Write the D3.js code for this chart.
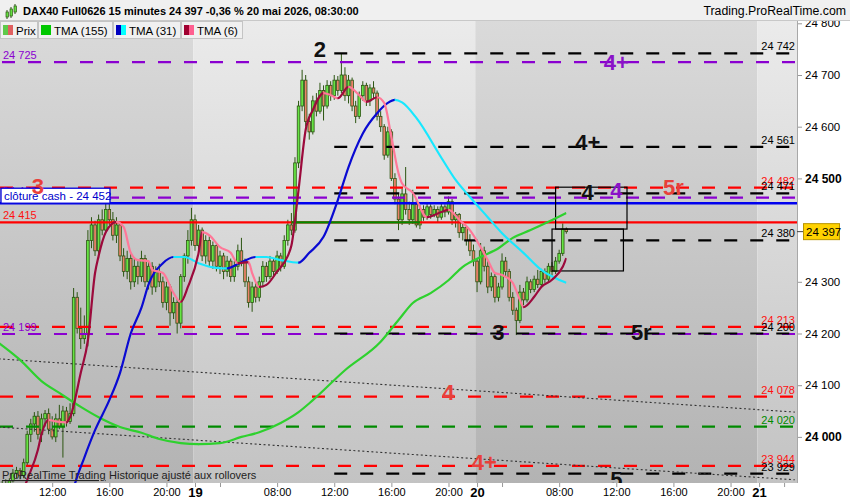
<!DOCTYPE html>
<html>
<head>
<meta charset="utf-8">
<script src="https://cdn.jsdelivr.net/npm/d3@7"></script>
<style>
  body { margin: 0; background: #fff; }
  svg { display: block; font-family: "Liberation Sans", Arial, sans-serif; }
</style>
</head>
<body>
<svg id="chart" width="850" height="500"></svg>
<script>
// 15 minute candles, [open, high, low, close]
const day18 = [
  [23905,23912,23885,23895],[23895,23915,23890,23910],[23910,23918,23895,23900],[23900,23920,23898,23915],
  [23915,23938,23912,23930],[23930,23942,23920,23935],[23935,23940,23918,23925],[23925,23958,23920,23950],
  [23950,24012,23945,24005],[24005,24035,23990,24025],[24025,24048,24010,24040],[24040,24050,23995,24005],
  [24005,24045,23990,24035],[24035,24052,24020,24045],[24045,24055,24005,24015],[24015,24040,23995,24000],
  [24000,24045,23990,24035],[24035,24062,24015,24020],[24020,24060,23960,24050],[24050,24058,24020,24030],
  [24030,24065,24025,24045],[24045,24288,24040,24270],[24270,24280,24200,24210],[24210,24250,24170,24190],
  [24190,24235,24180,24200],[24200,24400,24175,24380],[24380,24425,24365,24410],[24410,24418,24350,24360],
  [24360,24430,24345,24420],[24420,24440,24390,24400],[24400,24470,24395,24440],[24440,24482,24410,24420],
  [24420,24435,24380,24390],[24390,24425,24375,24410],[24410,24415,24340,24350],[24350,24365,24310,24320],
  [24320,24360,24305,24345],[24345,24355,24285,24300],[24300,24345,24290,24330],[24330,24340,24295,24310],
  [24310,24360,24300,24345],[24345,24352,24290,24300],[24300,24340,24285,24330],[24330,24338,24275,24290],
  [24290,24330,24280,24320],[24320,24335,24290,24300],[24300,24310,24250,24260],[24260,24300,24245,24290],
  [24290,24295,24215,24240],[24240,24270,24228,24260],[24260,24268,24200,24220],[24220,24315,24210,24310],
  [24310,24355,24300,24350],[24350,24400,24335,24380],[24380,24443,24370,24420]
]
const day19 = [
  [24420,24430,24360,24370],[24370,24410,24355,24400],[24400,24405,24340,24350],[24350,24390,24335,24380],
  [24380,24388,24330,24340],[24340,24378,24325,24370],[24370,24375,24320,24330],[24330,24360,24315,24350],
  [24350,24356,24305,24320],[24320,24350,24310,24340],[24340,24345,24300,24310],[24310,24340,24300,24330],
  [24330,24372,24322,24360],[24360,24385,24330,24340],[24340,24345,24290,24300],[24300,24310,24250,24260],
  [24260,24300,24242,24290],[24290,24298,24260,24270],[24270,24310,24262,24300],[24300,24340,24290,24330],
  [24330,24338,24300,24310],[24310,24350,24305,24340],[24340,24345,24310,24320],[24320,24360,24315,24350],
  [24350,24356,24320,24330],[24330,24390,24325,24380],[24380,24420,24370,24410],[24410,24433,24390,24400],
  [24400,24541,24395,24530],[24530,24650,24520,24640],[24640,24710,24630,24690],[24690,24700,24600,24610],
  [24610,24625,24575,24590],[24590,24660,24585,24650],[24650,24665,24620,24630],[24630,24685,24625,24670],
  [24670,24680,24612,24640],[24640,24690,24635,24680],[24680,24688,24650,24660],[24660,24700,24652,24690],
  [24690,24698,24660,24670],[24670,24742,24665,24700],[24700,24715,24650,24660],[24660,24700,24645,24690],
  [24690,24695,24630,24640],[24640,24650,24607,24620],[24620,24668,24615,24660],[24660,24688,24650,24680],
  [24680,24685,24640,24650],[24650,24682,24640,24675],[24675,24688,24655,24665],[24665,24670,24612,24620],
  [24620,24630,24590,24600],[24600,24605,24536,24545],[24545,24600,24540,24590],[24590,24595,24495,24500],
  [24500,24510,24450,24460],[24460,24472,24400,24420],[24420,24480,24410,24470],[24470,24522,24430,24440],
  [24440,24455,24410,24420],[24420,24478,24412,24450],[24450,24460,24405,24410],[24410,24448,24402,24440],
  [24440,24448,24418,24425],[24425,24452,24420,24445],[24445,24450,24422,24430],[24430,24448,24425,24440],
  [24440,24446,24415,24425],[24425,24452,24420,24445],[24445,24450,24425,24435],[24435,24465,24430,24455],
  [24455,24460,24410,24420],[24420,24435,24405,24430],[24430,24433,24385,24395],[24395,24415,24380,24405],
  [24405,24410,24370,24380],[24380,24392,24350,24360],[24360,24372,24330,24340]
]
const day20 = [
  [24340,24345,24280,24300],[24300,24375,24295,24360],[24360,24368,24320,24330],[24330,24340,24278,24290],
  [24290,24318,24282,24310],[24310,24315,24260,24270],[24270,24298,24262,24290],[24290,24355,24285,24340],
  [24340,24348,24310,24320],[24320,24325,24262,24270],[24270,24280,24236,24245],[24245,24250,24197,24225],
  [24225,24294,24220,24280],[24280,24288,24255,24265],[24265,24310,24260,24300],[24300,24305,24278,24285],
  [24285,24312,24280,24305],[24305,24323,24288,24295],[24295,24325,24290,24320],[24320,24326,24298,24305],
  [24305,24336,24300,24330],[24330,24338,24312,24320],[24320,24348,24315,24340],[24340,24362,24335,24355],
  [24355,24413,24350,24402],[24402,24405,24393,24397]
]

// moving averages, [bar, value]
const tma155 = [[0,24182],[6,24149],[12,24108],[17,24085],[23,24058],[28,24038],[34,24019],[40,24008],
  [45,23996],[51,23988],[56,23986],[62,23988],[68,24000],[73,24009],[79,24027],[84,24048],[88,24071],
  [97,24129],[107,24184],[112,24226],[116,24259],[121,24278],[126,24303],[130,24329],[135,24348],
  [140,24365],[144,24385],[149,24400],[154,24416],[159,24433]]
const tma31 = [[20,23870],[21,23900],[24,23960],[27,24013],[31,24071],[34,24124],[37,24200],[40,24250],
  [42,24295],[46,24336],[49,24348],[52,24348],[56,24336],[61,24327],[64,24326],[68,24338],[72,24348],
  [75,24348],[79,24342],[84,24337],[87,24356],[91,24387],[95,24458],[98,24522],[102,24587],[106,24626],
  [109,24646],[111,24652],[113,24647],[117,24617],[124,24540],[128,24497],[132,24464],[137,24425],
  [141,24394],[147,24356],[152,24323],[159,24298]]
const tma6 = [[6,23880],[8,23917],[11,23975],[12,24005],[14,24033],[16,24030],[19,24028],[20,24038],
  [23,24124],[25,24187],[27,24317],[28,24350],[30,24396],[33,24416],[35,24406],[37,24356],[39,24342],
  [42,24340],[43,24323],[46,24317],[49,24278],[51,24261],[53,24290],[56,24356],[57,24396],[59,24390],
  [62,24367],[65,24356],[67,24336],[70,24338],[71,24317],[73,24290],[75,24294],[78,24320],[81,24350],
  [82,24370],[84,24478],[86,24594],[88,24632],[91,24665],[93,24661],[95,24655],[98,24677],[101,24661],
  [103,24648],[106,24657],[108,24646],[110,24580],[112,24510],[113,24490],[116,24472],[120,24425],
  [124,24435],[126,24439],[129,24420],[132,24400],[135,24367],[137,24342],[139,24317],[141,24313],
  [144,24298],[146,24265],[147,24251],[150,24271],[152,24290],[155,24304],[158,24329],[159,24346]]

// horizontal levels
const blackLevels = [24742, 24561, 24471, 24380, 24200, 23929]
const purpleLevels = [24725, 24463, 24199]
const redLevels = [24482, 24213, 24078, 23944]
const greenLevels = [24020]
const cashClose = 24452
const redSolid = 24415
const lastPrice = 24397
const blackFromBar = 94
const greenSegment = [82, 118]
// dotted trend lines, [bar, value] pairs
const trendLines = [[[0,24151],[223,24048]], [[0,24019],[223,23917]]]
// boxes, [bar0, bar1, top, bottom]
const boxes = [[156,176,24483,24402],[155,175,24402,24321]]

// wave labels, [text, bar, value, colour]
const waveLabels = [
  ['2', 90, 24735, 'black'], ['3', 11, 24470, 'red'], ['4+', 173, 24710, 'purple'],
  ['4+', 165, 24555, 'black'], ['4', 165, 24458, 'black'], ['4', 173, 24462, 'purple'],
  ['5r', 189, 24468, 'red'], ['3', 140, 24187, 'black'], ['5r', 180, 24187, 'black'],
  ['4', 126, 24071, 'red'], ['4+', 136, 23936, 'red'], ['5', 173, 23903, 'black']
]

// axes
const priceTicks = [24000, 24100, 24200, 24300, 24500, 24600, 24700, 24800]
const boldPrices = [24000, 24500]
const timeTicks = [[15,'12:00'],[31,'16:00'],[47,'20:00'],[78,'08:00'],[94,'12:00'],[110,'16:00'],
  [126,'20:00'],[157,'08:00'],[173,'12:00'],[189,'16:00'],[205,'20:00']]
const dayTicks = [[55,'19'],[134,'20'],[213,'21']]
const minorTicks = [62, 141, 220]

const inkColors = {black: '#111', red: '#e8403a', purple: '#8a12c8'}
const fmt = v => d3.format(',')(v).replace(/,/g, ' ')

const plotRight = 797, plotTop = 20, plotBottom = 483
const svg = d3.select('#chart')
const defs = svg.append('defs')

const x = d3.scaleLinear().domain([0, 223]).range([-1.35, 794.8])
const y = d3.scaleLinear().domain([24000, 24700]).range([436.9, 75])

const bars = day18.concat(day19, day20).map((d, i) => ({i, o: d[0], h: d[1], l: d[2], c: d[3]}))

// gradients for the day bands
function gradient(id, top, bottom) {
  let g = defs.append('linearGradient').attr('id', id).attr('x1', 0).attr('y1', 0).attr('x2', 0).attr('y2', 1)
  g.append('stop').attr('offset', '0%').attr('stop-color', top)
  g.append('stop').attr('offset', '100%').attr('stop-color', bottom)
}
gradient('bandDark', '#dadada', '#b3b3b3')
gradient('bandLight', '#ebebeb', '#c3c3c3')

defs.append('clipPath').attr('id', 'plotClip').append('rect')
  .attr('x', 0).attr('y', plotTop).attr('width', plotRight).attr('height', plotBottom - plotTop)

svg.append('rect').attr('width', 850).attr('height', 500).attr('fill', '#fff')

const plot = svg.append('g').attr('clip-path', 'url(#plotClip)')

// day bands
let edges = [0].concat(dayTicks.map(d => d[0]), [230])
for (let k = 0; k < edges.length - 1; k++) {
  let x0 = k === 0 ? 0 : x(edges[k] - 0.5)
  let x1 = Math.min(plotRight, x(edges[k + 1] - 0.5))
  plot.append('rect').attr('x', x0).attr('y', plotTop).attr('width', x1 - x0).attr('height', plotBottom - plotTop)
    .attr('fill', k % 2 === 0 ? 'url(#bandDark)' : 'url(#bandLight)')
}

// candles
const wick = '#2c5512'
plot.append('g').selectAll('line').data(bars).join('line')
  .attr('x1', d => x(d.i)).attr('x2', d => x(d.i))
  .attr('y1', d => y(d.h)).attr('y2', d => y(d.l))
  .attr('stroke', wick).attr('stroke-width', 1)
const bw = 2.6
plot.append('g').selectAll('rect').data(bars).join('rect')
  .attr('x', d => x(d.i) - bw / 2).attr('width', bw)
  .attr('y', d => y(Math.max(d.o, d.c)))
  .attr('height', d => Math.max(0.8, Math.abs(y(d.o) - y(d.c))))
  .attr('fill', d => d.c >= d.o ? '#66e444' : '#ec826a')
  .attr('stroke', wick).attr('stroke-width', 0.8)

// levels
function hLine(v, x0, x1, color, dash, w) {
  plot.append('line').attr('x1', x0).attr('x2', x1).attr('y1', y(v)).attr('y2', y(v))
    .attr('stroke', color).attr('stroke-width', w).attr('stroke-dasharray', dash)
}
redLevels.forEach(v => hLine(v, 0, plotRight, '#ff0000', '13,13', 2.2))
purpleLevels.forEach(v => hLine(v, 2, plotRight, '#8a00d0', '13,13', 2.2))
greenLevels.forEach(v => hLine(v, 0, plotRight, '#008a00', '13,13', 2.2))
blackLevels.forEach(v => hLine(v, x(blackFromBar), plotRight, '#000', '13,13', 2.2))
hLine(redSolid, 0, plotRight, '#ff0000', null, 2.2)
hLine(redSolid, x(greenSegment[0]), x(greenSegment[1]), '#008a00', null, 2.4)
hLine(cashClose, 0, plotRight, '#0000ee', null, 2.6)

trendLines.forEach(t => {
  plot.append('line').attr('x1', x(t[0][0])).attr('y1', y(t[0][1])).attr('x2', x(t[1][0])).attr('y2', y(t[1][1]))
    .attr('stroke', '#333').attr('stroke-width', 1.1).attr('stroke-dasharray', '2,2.5')
})

boxes.forEach(b => {
  plot.append('rect').attr('x', x(b[0])).attr('y', y(b[2])).attr('width', x(b[1]) - x(b[0])).attr('height', y(b[3]) - y(b[2]))
    .attr('fill', 'none').attr('stroke', '#000').attr('stroke-width', 1.2)
})

// moving averages coloured by direction
function drawTma(points, upColor, downColor, id) {
  const pathD = d3.line().x(d => x(d[0])).y(d => y(d[1])).curve(d3.curveMonotoneX)(points)
  let runs = []
  for (let k = 1; k < points.length; k++) {
    let up = points[k][1] > points[k - 1][1]
    let last = runs[runs.length - 1]
    if (last && last.up === up) last.end = points[k][0]
    else runs.push({up, start: points[k - 1][0], end: points[k][0]})
  }
  runs.forEach((r, n) => {
    let cid = id + n
    defs.append('clipPath').attr('id', cid).append('rect')
      .attr('x', x(r.start) - 0.3).attr('width', x(r.end) - x(r.start) + 0.6).attr('y', 0).attr('height', 500)
    plot.append('path').attr('d', pathD).attr('clip-path', 'url(#' + cid + ')')
      .attr('fill', 'none').attr('stroke', r.up ? upColor : downColor).attr('stroke-width', 2.2)
  })
}
drawTma(tma155, '#2ed12e', '#2ed12e', 't155_')
drawTma(tma31, '#0a0ad2', '#18e8ff', 't31_')
drawTma(tma6, '#9c0a3c', '#ff7898', 't6_')

// level values
const labels = plot.append('g').style('font-size', '11px')
function levelText(v, color, side) {
  labels.append('text').attr('x', side === 'left' ? 3 : 795).attr('y', y(v) - 3)
    .attr('text-anchor', side === 'left' ? 'start' : 'end').attr('fill', color).text(fmt(v))
}
purpleLevels.forEach(v => levelText(v, '#8a00d0', 'left'))
levelText(redSolid, '#ff1010', 'left')
redLevels.forEach(v => levelText(v, '#ff1010', 'right'))
greenLevels.forEach(v => levelText(v, '#008a00', 'right'))
blackLevels.forEach(v => levelText(v, '#000', 'right'))

// close cash label
plot.append('rect').attr('x', 1).attr('y', y(cashClose) - 15).attr('width', 109).attr('height', 15)
  .attr('fill', '#fff').attr('stroke', '#0000dd').attr('stroke-width', 1.3)
plot.append('text').attr('x', 4).attr('y', y(cashClose) - 3.5).style('font-size', '11.5px')
  .attr('fill', '#0000cc').text('clôture cash -  ' + fmt(cashClose))

// wave counts
plot.append('g').selectAll('text').data(waveLabels).join('text')
  .attr('x', d => x(d[1])).attr('y', d => y(d[2]))
  .attr('text-anchor', 'middle').style('font-size', '22px').style('font-weight', 'bold')
  .attr('fill', d => inkColors[d[3]]).text(d => d[0])

// footer note
plot.append('text').attr('x', 2).attr('y', 479).style('font-size', '11px').attr('fill', '#222')
  .style('text-decoration', 'underline').text('ProRealTime Trading')
plot.append('text').attr('x', 109).attr('y', 479).style('font-size', '11px').attr('fill', '#222')
  .text('Historique ajusté aux rollovers')

// right axis
svg.append('rect').attr('x', plotRight).attr('y', plotTop).attr('width', 850 - plotRight).attr('height', 480).attr('fill', '#fff')
const yAxis = svg.append('g').attr('transform', 'translate(' + plotRight + ',0)')
  .call(d3.axisRight(y).tickValues(priceTicks).tickSize(5).tickPadding(3).tickFormat(fmt))
yAxis.select('.domain').remove()
yAxis.selectAll('line').attr('stroke', '#999')
yAxis.selectAll('text').style('font-family', '"Liberation Sans", Arial, sans-serif').style('font-size', '11.5px').attr('fill', '#000')
  .filter(d => boldPrices.includes(d)).style('font-weight', 'bold').style('font-size', '12px')
svg.append('line').attr('x1', plotRight + 0.5).attr('x2', plotRight + 0.5).attr('y1', plotTop).attr('y2', plotBottom)
  .attr('stroke', '#a8a8a8')

// last price
svg.append('line').attr('x1', plotRight).attr('x2', plotRight + 6).attr('y1', y(lastPrice)).attr('y2', y(lastPrice)).attr('stroke', '#444')
svg.append('rect').attr('x', 803.5).attr('y', y(lastPrice) - 8).attr('width', 36).attr('height', 16)
  .attr('fill', '#ffd200').attr('stroke', '#b89400')
svg.append('text').attr('x', 806).attr('y', y(lastPrice) + 4.5).style('font-size', '11.5px').attr('fill', '#000').text(fmt(lastPrice))

// time axis
const tickLabel = new Map(timeTicks.concat(dayTicks))
const allTicks = timeTicks.map(d => d[0]).concat(dayTicks.map(d => d[0]), minorTicks)
const xAxis = svg.append('g').attr('transform', 'translate(0,' + plotBottom + ')')
  .call(d3.axisBottom(x).tickValues(allTicks).tickSize(4).tickPadding(1).tickFormat(d => tickLabel.get(d) || ''))
xAxis.select('.domain').remove()
xAxis.selectAll('line').attr('stroke', '#999')
xAxis.selectAll('text').style('font-family', '"Liberation Sans", Arial, sans-serif').style('font-size', '11px').attr('fill', '#000')
  .filter(d => dayTicks.some(t => t[0] === d)).style('font-weight', 'bold').style('font-size', '13px')

// header
svg.append('rect').attr('width', 850).attr('height', 20).attr('fill', '#f0f0f0')
svg.append('line').attr('x1', 0).attr('x2', 850).attr('y1', 20.5).attr('y2', 20.5).attr('stroke', '#c8c8c8')
const icon = svg.append('g').attr('transform', 'translate(5,4)')
;[[1, 8, 5], [5, 5, 7], [9, 2, 6]].forEach(c => {
  icon.append('line').attr('x1', c[0] + 1).attr('x2', c[0] + 1).attr('y1', c[1] - 2).attr('y2', c[1] + c[2] + 2).attr('stroke', '#2c5512')
  icon.append('rect').attr('x', c[0]).attr('y', c[1]).attr('width', 2.4).attr('height', c[2]).attr('fill', '#62e040').attr('stroke', '#2c5512').attr('stroke-width', 0.7)
})
svg.append('text').attr('x', 23).attr('y', 15).style('font-size', '11px').style('font-weight', 'bold')
  .text('DAX40 Full0626 15 minutes 24 397 -0,36 % 20 mai 2026, 08:30:00')
svg.append('text').attr('x', 846).attr('y', 15).attr('text-anchor', 'end').style('font-size', '12.3px')
  .text('Trading.ProRealTime.com')

// legend
const legendItems = [['Prix', 0, 37, ['#5ec94a', '#e06060']], ['TMA (155)', 38, 112, ['#00c800', '#00c800']],
  ['TMA (31)', 113, 180, ['#0000c0', '#00ffff']], ['TMA (6)', 181, 242, ['#a00030', '#ff6090']]]
const legend = svg.append('g')
legendItems.forEach(d => {
  legend.append('rect').attr('x', d[1] + 0.5).attr('y', 21.5).attr('width', d[2] - d[1]).attr('height', 17)
    .attr('fill', '#f0f0f0').attr('stroke', '#c4c4c4')
  legend.append('rect').attr('x', d[1] + 3).attr('y', 25).attr('width', 5).attr('height', 10).attr('fill', d[3][0])
  legend.append('rect').attr('x', d[1] + 8).attr('y', 25).attr('width', 5).attr('height', 10).attr('fill', d[3][1])
  legend.append('text').attr('x', d[1] + 16).attr('y', 34.5).style('font-size', '11.5px').text(d[0])
})
</script>
</body>
</html>
